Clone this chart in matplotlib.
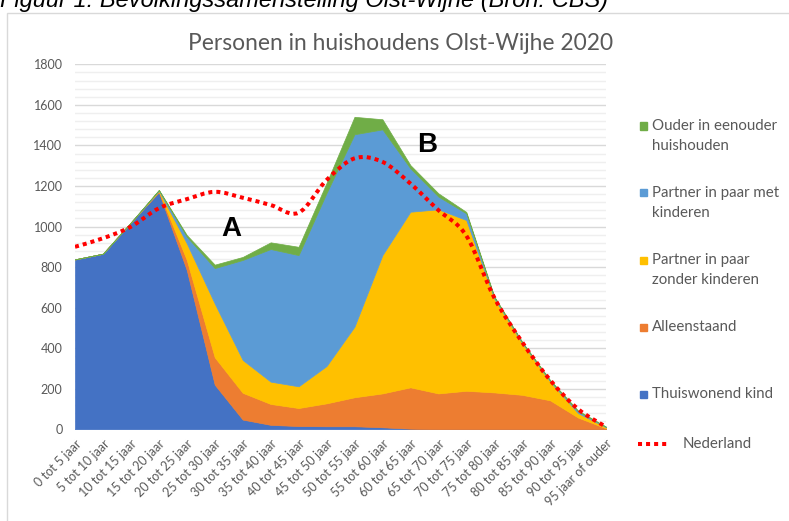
import numpy as np
import matplotlib.pyplot as plt
from matplotlib.path import Path
from matplotlib.patches import PathPatch, Rectangle
from matplotlib.lines import Line2D

plt.rcParams['font.family'] = ['Lato', 'DejaVu Sans']

# DATA
leeftijd = ["0 tot 5 jaar", "5 tot 10 jaar", "10 tot 15 jaar", "15 tot 20 jaar",
            "20 tot 25 jaar", "25 tot 30 jaar", "30 tot 35 jaar", "35 tot 40 jaar",
            "40 tot 45 jaar", "45 tot 50 jaar", "50 tot 55 jaar", "55 tot 60 jaar",
            "60 tot 65 jaar", "65 tot 70 jaar", "70 tot 75 jaar", "75 tot 80 jaar",
            "80 tot 85 jaar", "85 tot 90 jaar", "90 tot 95 jaar", "95 jaar of ouder"]
thuiswonend = [838, 866, 1020, 1170, 785, 220, 48, 22, 16, 15, 15, 10, 3, 0, 0, 0, 0, 0, 0, 0]
alleenstaand = [0, 0, 0, 4, 50, 135, 132, 103, 89, 113, 143, 167, 204, 177, 190, 182, 170, 143, 58, 5]
zonder_kind = [0, 0, 0, 3, 82, 265, 162, 110, 107, 184, 348, 682, 866, 908, 842, 464, 255, 93, 22, 5]
met_kind = [0, 0, 0, 2, 33, 175, 493, 654, 647, 853, 949, 620, 214, 63, 33, 6, 4, 4, 8, 2]
eenouder = [0, 0, 0, 2, 8, 17, 15, 33, 41, 50, 86, 50, 16, 16, 7, 4, 2, 3, 5, 1]
nederland = [900, 942, 999, 1090, 1135, 1171, 1142, 1106, 1068, 1229, 1336, 1319, 1212, 1081,
             955, 650, 430, 243, 100, 12]

kleuren = ["#4472C4", "#ED7D31", "#FFC000", "#5B9BD5", "#70AD47"]
grijs = "#595959"

W, H = 789, 521
fig = plt.figure(figsize=(W / 100, H / 100), dpi=100)
ax = fig.add_axes([75 / W, 1 - 429.3 / H, (606 - 75) / W, (429.3 - 64.3) / H])

x = np.arange(len(leeftijd))
polys = ax.stackplot(x, thuiswonend, alleenstaand, zonder_kind, met_kind, eenouder,
                     colors=kleuren, zorder=2)
for p, c in zip(polys, kleuren):
    p.set_edgecolor(c)
    p.set_linewidth(0.5)


# smooth line like the spreadsheet "smoothed line" option
def smooth_path(xs, ys):
    pts = np.column_stack([xs, ys]).astype(float)
    n = len(pts)
    verts = [pts[0]]
    codes = [Path.MOVETO]
    for i in range(n - 1):
        p0 = pts[i - 1] if i > 0 else pts[i]
        p3 = pts[i + 2] if i + 2 < n else pts[i + 1]
        verts += [pts[i] + (pts[i + 1] - p0) / 6, pts[i + 1] - (p3 - pts[i]) / 6, pts[i + 1]]
        codes += [Path.CURVE4] * 3
    return Path(verts, codes)


ax.add_patch(PathPatch(smooth_path(x, nederland), fill=False, edgecolor="#FF0000",
                       lw=2.9, linestyle=(0, (1, 1)), capstyle="butt", zorder=4))

ax.set_xlim(0, len(leeftijd) - 1)
ax.set_ylim(0, 1800)
ax.set_yticks(np.arange(0, 1801, 200))
ax.set_yticks(np.arange(0, 1801, 40), minor=True)
ax.grid(True, which="major", axis="y", color="#d9d9d9", lw=1.0, zorder=0)
ax.grid(True, which="minor", axis="y", color="#efefef", lw=1.0, zorder=0)
ax.set_axisbelow(True)
for s in ax.spines.values():
    s.set_visible(False)
ax.tick_params(axis="both", which="both", length=0, labelcolor=grijs)
ax.tick_params(axis="y", labelsize=9, pad=9)
ax.set_xticks(x)
ax.set_xticklabels(leeftijd, rotation=45, ha="right", rotation_mode="anchor", fontsize=9)
ax.tick_params(axis="x", pad=6)

ax.text(5.58, 987, "A", fontsize=20, fontweight="bold", family="Liberation Sans",
        ha="center", va="center", zorder=5)
ax.text(12.6, 1401, "B", fontsize=20, fontweight="bold", family="Liberation Sans",
        ha="center", va="center", zorder=5)

# titles
fig.text(401 / W, 1 - 44 / H, "Personen in huishoudens Olst-Wijhe 2020", fontsize=16.4,
         color=grijs, ha="center", va="center")
fig.text(0, 1 - 7 / H, "Figuur 1: Bevolkingssamenstelling Olst-Wijhe (Bron: CBS)",
         fontsize=17, style="italic", family="Liberation Sans", va="baseline", ha="left")

# chart frame
fig.add_artist(Rectangle((7 / W, -0.1), 1.2, 1 - 13 / H + 0.1, transform=fig.transFigure,
                         fill=False, edgecolor="#d9d9d9", lw=1))

# legend
legenda = [
    (["Ouder in eenouder", "huishouden"], kleuren[4], 126),
    (["Partner in paar met", "kinderen"], kleuren[3], 193),
    (["Partner in paar", "zonder kinderen"], kleuren[2], 260),
    (["Alleenstaand"], kleuren[1], 327),
    (["Thuiswonend kind"], kleuren[0], 394),
]
for regels, kleur, y in legenda:
    fig.add_artist(Rectangle((640 / W, 1 - (y + 3.5) / H), 7 / W, 7 / H,
                             transform=fig.transFigure, color=kleur))
    for k, regel in enumerate(regels):
        fig.text(652 / W, 1 - (y + 20 * k) / H, regel, fontsize=10.8, color=grijs,
                 ha="left", va="center")
fig.add_artist(Line2D([638 / W, 668 / W], [1 - 444 / H, 1 - 444 / H], transform=fig.transFigure,
                      color="#FF0000", lw=2.9, linestyle=(0, (1, 1)), dash_capstyle="butt"))
fig.text(683 / W, 1 - 444 / H, "Nederland", fontsize=10.8, color=grijs, ha="left", va="center")

fig.savefig("out.png", dpi=100, facecolor="white")
